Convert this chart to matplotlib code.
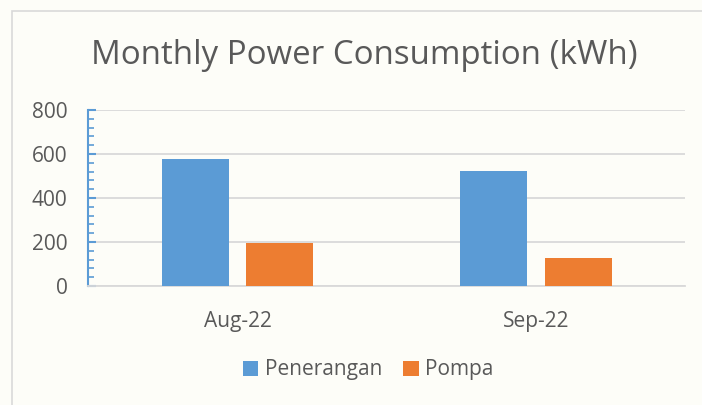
import matplotlib
matplotlib.use('Agg')
import matplotlib.pyplot as plt
import numpy as np
from matplotlib.patches import Rectangle
from matplotlib.ticker import MultipleLocator

# data
months = ['Aug-22', 'Sep-22']
penerangan = [577, 523]
pompa = [195, 129]
series_names = ['Penerangan', 'Pompa']

blue = '#5B9BD5'
orange = '#ED7D31'
text_gray = '#595959'
bg = '#FDFDF8'

plt.rcParams['font.family'] = ['Open Sans', 'DejaVu Sans']

W, H = 702, 405
fig = plt.figure(figsize=(W / 100, H / 100), dpi=100, facecolor=bg)

# chart border (only top/left visible in crop)
fig.patches.append(Rectangle((12 / W, -0.1), 1.2, (H - 11) / H + 0.1,
                             transform=fig.transFigure, fill=False,
                             edgecolor='#D9D9D9', linewidth=1.2))

ax = fig.add_axes([88.3 / W, 119 / H, (685 - 88.3) / W, 176 / H])
ax.set_facecolor('none')

x = np.arange(len(months))
bw = 0.224
off = 0.142
ax.bar(x - off, penerangan, bw, color=blue, label=series_names[0], zorder=3)
ax.bar(x + off, pompa, bw, color=orange, label=series_names[1], zorder=3)

ax.set_xlim(-0.5, 1.5)
ax.set_ylim(0, 800)
ax.set_yticks([0, 200, 400, 600, 800])
ax.yaxis.set_minor_locator(MultipleLocator(40))
ax.set_xticks(x)
ax.set_xticklabels(months)

ax.grid(axis='y', color='#D9D9D9', linewidth=1.3, zorder=0)
for s in ['top', 'right']:
    ax.spines[s].set_visible(False)
ax.spines['bottom'].set_color('#D9D9D9')
ax.spines['bottom'].set_linewidth(1.3)
ax.spines['left'].set_color(blue)
ax.spines['left'].set_linewidth(1.5)

ax.tick_params(axis='y', which='major', direction='in', length=6, width=1.5,
               color=blue, labelsize=15, labelcolor=text_gray, pad=15)
ax.tick_params(axis='y', which='minor', direction='in', length=4, width=1.2,
               color=blue)
ax.tick_params(axis='x', length=0, labelsize=15, labelcolor=text_gray, pad=18)

fig.text(364 / W, (H - 56) / H, 'Monthly Power Consumption (kWh)',
         ha='center', va='center', fontsize=23.8, color=text_gray)

fig.legend(loc='center', bbox_to_anchor=(368 / W, (H - 370) / H), ncol=2,
           frameon=False, fontsize=15, labelcolor=text_gray,
           handlelength=0.75, handleheight=0.75, handletextpad=0.3,
           columnspacing=1.0)

fig.savefig('out.png', dpi=100, facecolor=bg)
